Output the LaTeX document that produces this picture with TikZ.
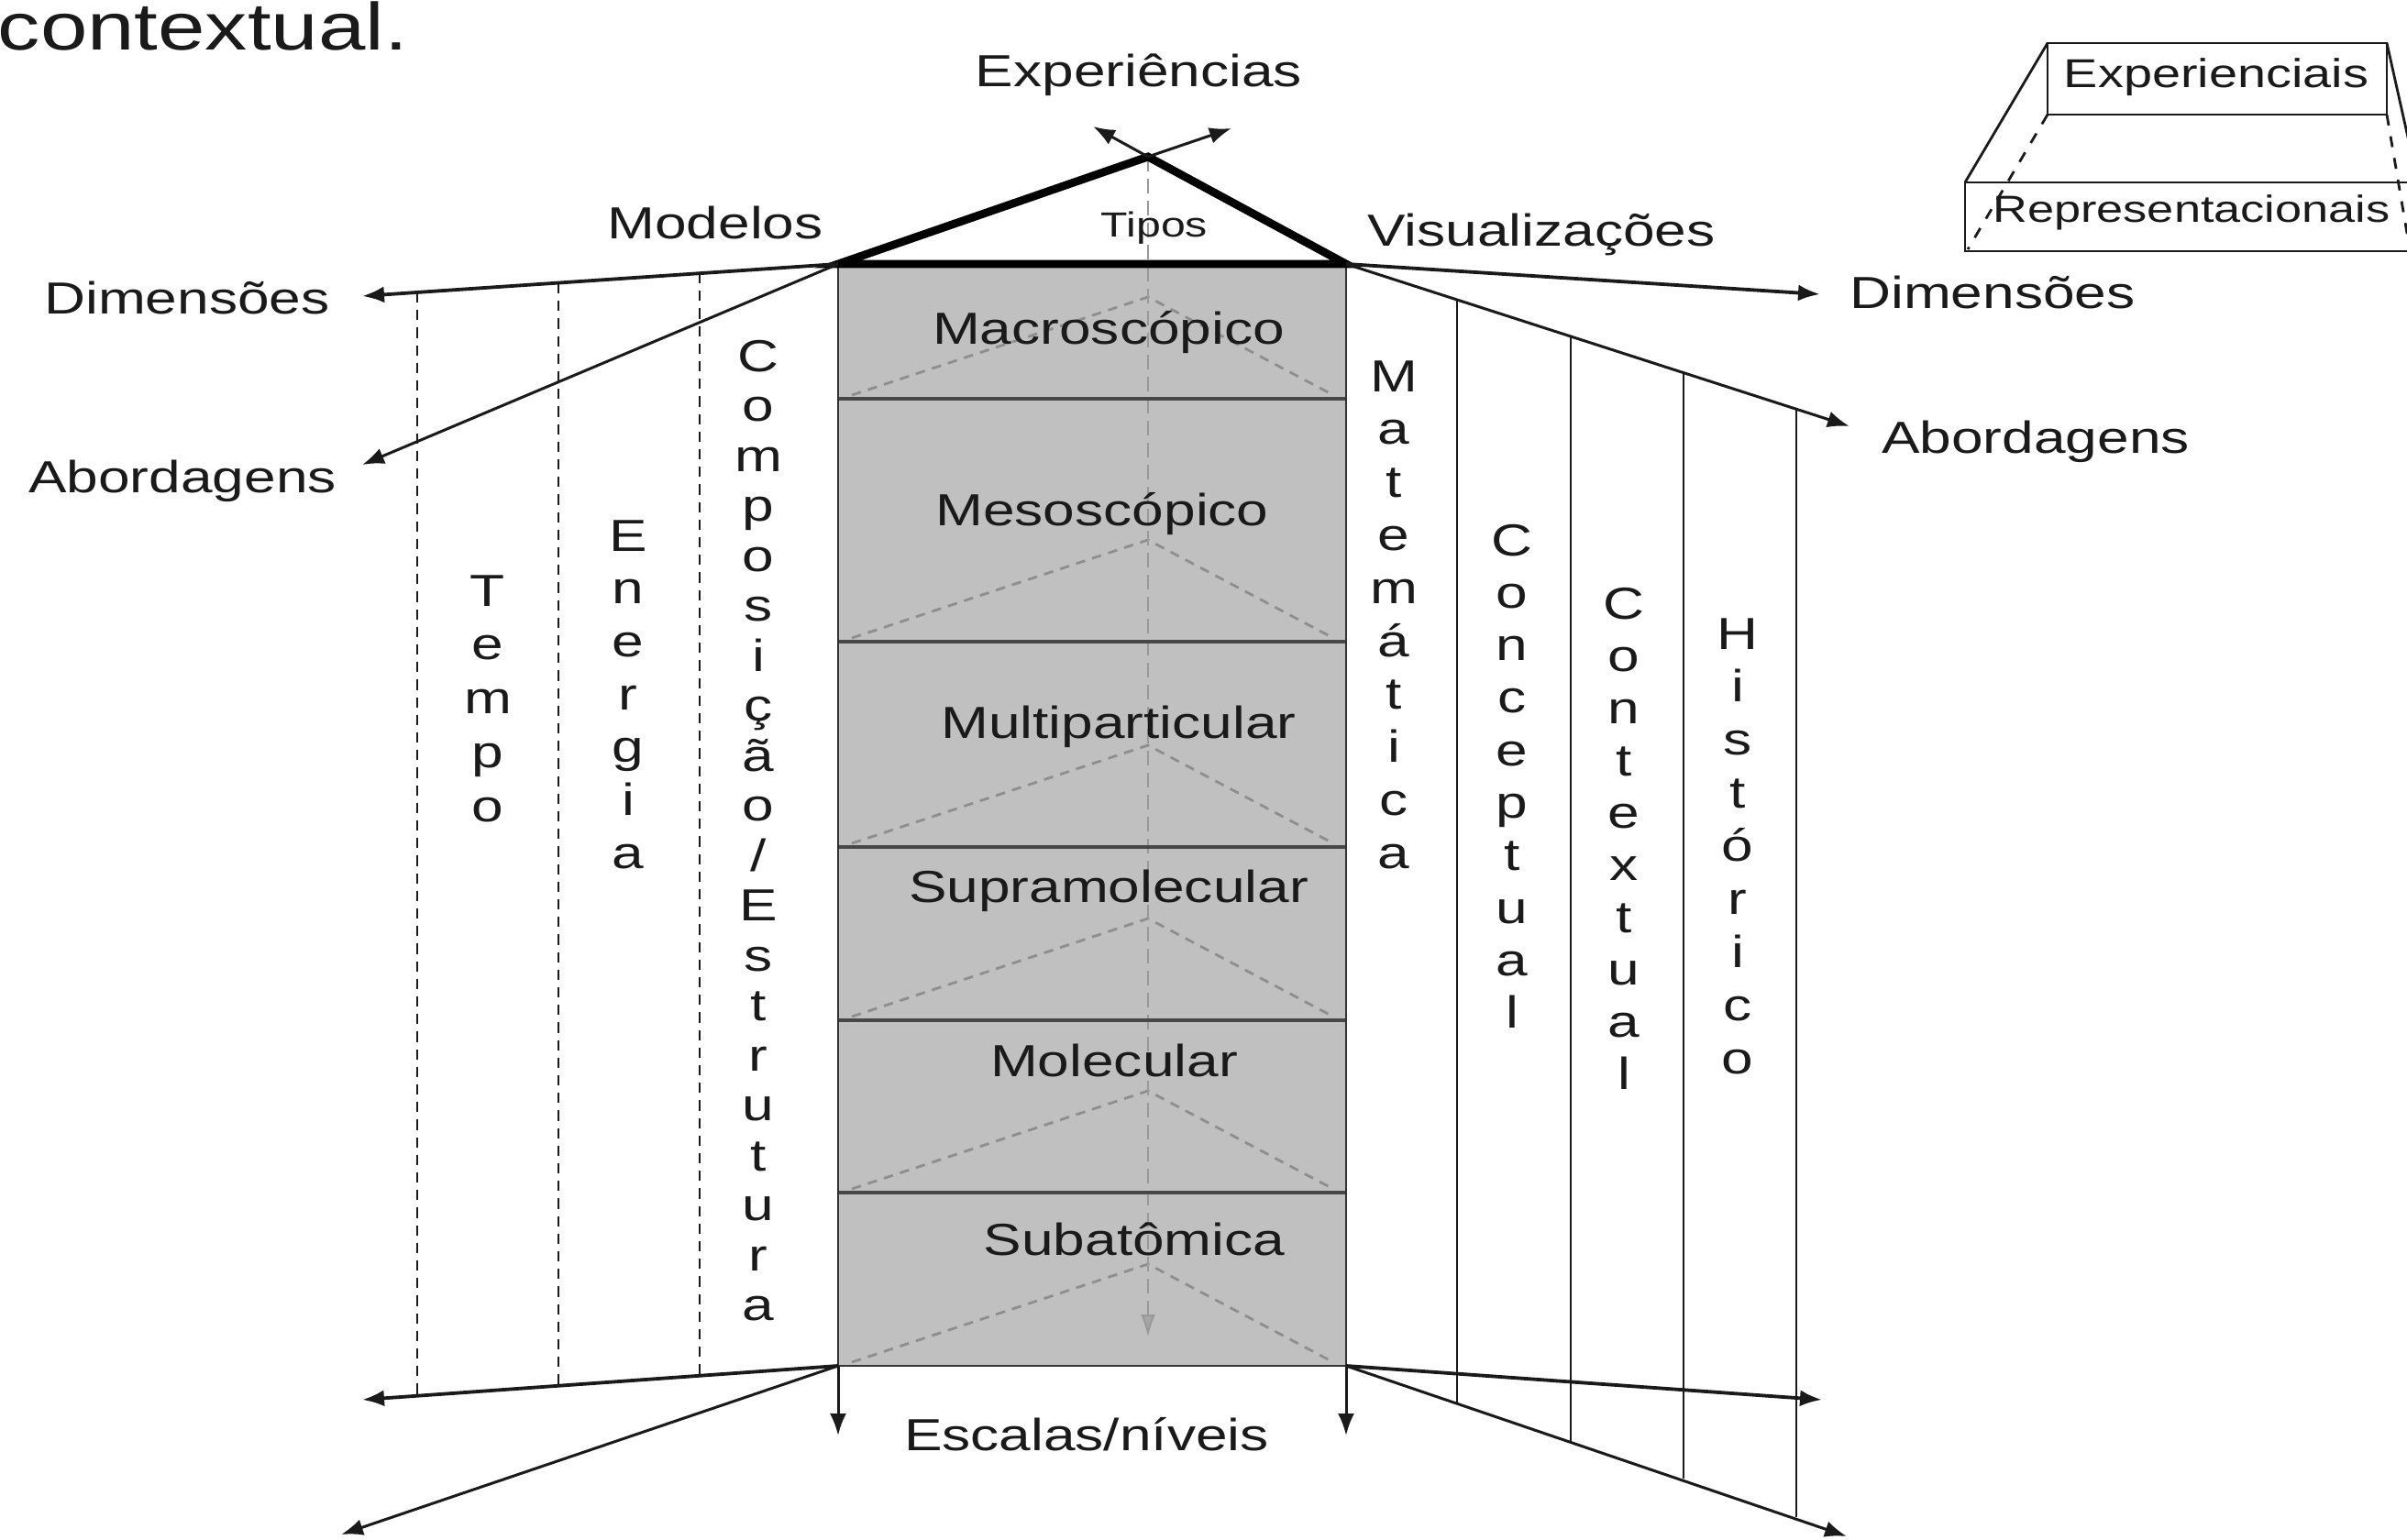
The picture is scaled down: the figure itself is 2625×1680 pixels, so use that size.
\documentclass[tikz,border=0pt]{standalone}
\usepackage{fontspec}
\setmainfont{Liberation Sans}[FakeStretch=1.27]
\usetikzlibrary{arrows.meta,calc}
\definecolor{boxgray}{HTML}{C0C0C0}
\definecolor{ink}{HTML}{1A1A1A}
\definecolor{trigray}{HTML}{8E8E8E}
\newcommand\vertword[5]{%
  \foreach \ch [count=\k] in {#5}{%
    \node[vl] (#1\k) at (#2,{#3+(\k-1)*#4}) {\ch};}}
\begin{document}
\begin{tikzpicture}[x=0.25pt,y=-0.25pt,
  lbl/.style={font=\fontsize{12.25}{14}\selectfont, text=ink, inner sep=0pt, anchor=base},
  vl/.style={font=\fontsize{12.25}{14}\selectfont, text=ink, inner sep=0pt, anchor=base},
  small/.style={font=\fontsize{9.5}{11}\selectfont, text=ink, inner sep=0pt, anchor=base},
  arr/.style={-{Latex[length=6pt,width=4.5pt]}, line width=0.75pt, draw=ink},
  thickarr/.style={arr, line width=0.95pt},
  roof/.style={line width=2.2pt, line join=miter, draw=black},
  lvl/.style={line width=0.8pt, draw=black!72},
  boxline/.style={line width=0.7pt, draw=black!80},
  tri/.style={dash pattern=on 2.6pt off 2pt, draw=trigray, line width=0.7pt},
  cdash/.style={dash pattern=on 4pt off 2pt, draw=black!40, line width=0.5pt,
     -{Latex[length=6pt,width=4pt,fill=black!35]}},
  ldash/.style={dash pattern=on 2.8pt off 2pt, line width=0.65pt, draw=ink},
  rline/.style={line width=0.6pt, draw=ink},
  leg/.style={line width=0.7pt, draw=ink},
  legdash/.style={leg, dash pattern=on 3pt off 3pt}]
\useasboundingbox (0,0) rectangle (2625,1680);
\clip (0,0) rectangle (2625,1680);

% key points
\coordinate (TL) at (914,288);
\coordinate (TR) at (1468,288);
\coordinate (BL) at (914,1490);
\coordinate (BR) at (1468,1490);
\coordinate (apex) at (1252,171);

% text fragment at the top left
\node[font=\fontsize{18.2}{21}\selectfont, text=ink, inner sep=0pt, anchor=base west] (ctx) at (-3,55) {contextual.};

% grey column
\fill[boxgray] (TL) rectangle (BR);
\foreach \b in {435,700,924,1113,1301,1490}{
  \draw[tri] (929,\b-4) -- (1252,\b-111) -- (1454,\b-4);}
\draw[cdash] (apex) -- (1252,1458);
\foreach \y in {435,700,924,1113,1301}{\draw[lvl] (914,\y) -- (1468,\y);}
\draw[boxline] (TL) -- (BL) -- (BR) -- (TR);

% roof
\draw[roof] (TL) -- (apex) -- (TR) -- cycle;

% arrows from the apex
\coordinate (expL) at (1192,138);
\coordinate (expR) at (1343,140);
\draw[arr] (apex) -- (expL);
\draw[arr] (apex) -- (expR);

% left arrows
\coordinate (dimL) at (395,323);
\coordinate (abL) at (395,507);
\coordinate (botL) at (395,1527);
\coordinate (diagL) at (372,1674);
\coordinate (downL) at (914,1566);
\draw[thickarr] (TL) -- (dimL);
\draw[arr] (TL) -- (abL);
\draw[thickarr] (BL) -- (botL);
\draw[arr] (BL) -- (diagL);
\draw[arr] (BL) -- (downL);

% right arrows
\coordinate (dimR) at (1985,321);
\coordinate (abR) at (2017,465);
\coordinate (botR) at (1987,1527);
\coordinate (diagR) at (2014,1676);
\coordinate (downR) at (1468,1566);
\draw[thickarr] (TR) -- (dimR);
\draw[arr] (TR) -- (abR);
\draw[thickarr] (BR) -- (botR);
\draw[arr] (BR) -- (diagR);
\draw[arr] (BR) -- (downR);

% left dashed dividers
\draw[ldash] (455,319) -- (455,1523);
\draw[ldash] (609,309) -- (609,1512);
\draw[ldash] (763,298) -- (763,1501);

% right solid dividers
\draw[rline] (1589,327) -- (1589,1531);
\draw[rline] (1713,367) -- (1713,1572);
\draw[rline] (1836,407) -- (1836,1613);
\draw[rline] (1959,446) -- (1959,1655);

% labels
\node[lbl] (experiencias) at (1242,95) {Experiências};
\node[lbl] (modelos) at (780,261) {Modelos};
\node[small] (tipos) at (1259,259) {Tipos};
\node[lbl] (visual) at (1681,268) {Visualizações};
\node[lbl] (dimLt) at (204,342) {Dimensões};
\node[lbl] (abLt) at (199,537) {Abordagens};
\node[lbl] (dimRt) at (2173,337) {Dimensões};
\node[lbl] (abRt) at (2220,494) {Abordagens};
\node[lbl] (escalas) at (1185,1582) {Escalas/níveis};

\node[lbl] (macro) at (1209,375) {Macroscópico};
\node[lbl] (meso) at (1202,573) {Mesoscópico};
\node[lbl] (multi) at (1220,805) {Multiparticular};
\node[lbl] (supra) at (1209,984) {Supramolecular};
\node[lbl] (molec) at (1215,1174) {Molecular};
\node[lbl] (subat) at (1237,1369) {Subatômica};

% vertical words
\vertword{tempo}{532}{661}{58.8}{T,e,m,p,o}
\vertword{energia}{685}{601}{57.7}{E,n,e,r,g,i,a}
\vertword{comp}{827}{405}{54.5}{C,o,m,p,o,s,i,ç,ã,o,/,E,s,t,r,u,t,u,r,a}
\vertword{mat}{1520}{427}{57.8}{M,a,t,e,m,á,t,i,c,a}
\vertword{conc}{1649}{606}{57.3}{C,o,n,c,e,p,t,u,a,l}
\vertword{cont}{1771}{675}{57.1}{C,o,n,t,e,x,t,u,a,l}
\vertword{hist}{1895}{708}{57.9}{H,i,s,t,ó,r,i,c,o}

% legend
\draw[leg] (2233,47) rectangle (2603,125);
\draw[leg] (2143,199) rectangle (2640,274);
\draw[leg] (2233,47) -- (2143,199);
\draw[leg] (2603,47) -- (2637,199);
\draw[legdash] (2233,125) -- (2146,272);
\draw[legdash] (2603,125) -- (2628,272);
\node[font=\fontsize{11}{13}\selectfont, text=ink, inner sep=0pt, anchor=base] (legE) at (2417,96) {Experienciais};
\node[font=\fontsize{10.3}{12}\selectfont, text=ink, inner sep=0pt, anchor=base] (legR) at (2390,243) {Representacionais};
\end{tikzpicture}
\end{document}
